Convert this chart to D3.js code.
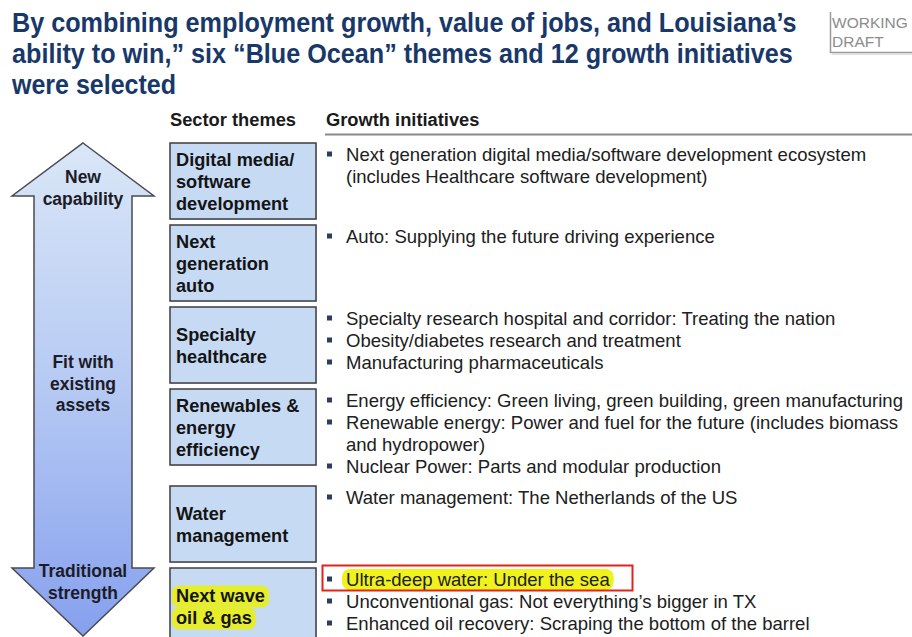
<!DOCTYPE html>
<html><head><meta charset="utf-8">
<script src="https://cdn.jsdelivr.net/npm/d3@7"></script>
<style>
html,body{margin:0;padding:0;background:#fff;}
svg{display:block;font-family:"Liberation Sans",Arial,sans-serif;}
</style></head>
<body>
<script>
// ---- content ----
const titleLines = [
  "By combining employment growth, value of jobs, and Louisiana’s",
  "ability to win,” six “Blue Ocean” themes and 12 growth initiatives",
  "were selected"
];
const stampLines = ["WORKING", "DRAFT"];
const headers = ["Sector themes", "Growth initiatives"];
const themes = [
  ["Digital media/", "software", "development"],
  ["Next", "generation", "auto"],
  ["Specialty", "healthcare"],
  ["Renewables &", "energy", "efficiency"],
  ["Water", "management"],
  ["Next wave", "oil & gas"]
];
const initiatives = [
  [["Next generation digital media/software development ecosystem", "(includes Healthcare software development)"]],
  [["Auto: Supplying the future driving experience"]],
  [["Specialty research hospital and corridor: Treating the nation"],
   ["Obesity/diabetes research and treatment"],
   ["Manufacturing pharmaceuticals"]],
  [["Energy efficiency: Green living, green building, green manufacturing"],
   ["Renewable energy: Power and fuel for the future (includes biomass", "and hydropower)"],
   ["Nuclear Power: Parts and modular production"]],
  [["Water management: The Netherlands of the US"]],
  [["Ultra-deep water: Under the sea"],
   ["Unconventional gas: Not everything’s bigger in TX"],
   ["Enhanced oil recovery: Scraping the bottom of the barrel"]]
];
const arrowLabels = [["New", "capability"], ["Fit with", "existing", "assets"], ["Traditional", "strength"]];
const highlightedTheme = 5;
const highlightedInitiative = [5, 0];

// ---- layout ----
const W = 912, H = 637;
const svg = d3.select("body").append("svg").attr("width", W).attr("height", H);
const defs = svg.append("defs");

// title (horizontally condensed via a scale transform)
const titleWidths = [785, 781, 164];
svg.append("g").selectAll("text").data(titleLines).join("text")
  .attr("x", 0).attr("y", 0)
  .attr("font-size", 28).attr("font-weight", "bold").attr("fill", "#18386a")
  .text(d => d)
  .attr("transform", function (d, i) {
    const sx = titleWidths[i] / this.getComputedTextLength();
    return `translate(12,${31.5 + i * 31}) scale(${sx},1)`;
  });

// stamp
const stamp = svg.append("g");
stamp.append("path").attr("d", "M830.5,12 V52.5 H912").attr("fill", "none")
  .attr("stroke", "#9a9a9a").attr("stroke-width", 1.5);
stamp.append("path").attr("d", "M832,54 H912").attr("stroke", "#d8d8d8").attr("stroke-width", 1.5);
stamp.selectAll("text").data(stampLines).join("text")
  .attr("x", 832).attr("y", (d, i) => 28 + i * 19)
  .attr("font-size", 15.5).attr("fill", "#8c8c8c").text(d => d);

// headers
svg.append("text").attr("x", 170).attr("y", 126).attr("font-size", 18.3).attr("font-weight", "bold")
  .attr("fill", "#1a1a1a").text(headers[0]);
svg.append("text").attr("x", 326).attr("y", 126).attr("font-size", 18.3).attr("font-weight", "bold")
  .attr("fill", "#1a1a1a").text(headers[1]);
svg.append("line").attr("x1", 325).attr("x2", W).attr("y1", 134.5).attr("y2", 134.5)
  .attr("stroke", "#8a8a8a").attr("stroke-width", 2);

// row positions from the number of initiative lines
const lineH = 22;
const tops = [];
let t = 143;
initiatives.forEach((items, i) => {
  tops.push(t);
  const n = d3.sum(items, it => it.length);
  t += Math.max(82, n * lineH + 9);
});
const boxX = 170, boxW = 146, boxH = 76;

// arrow
const grad = defs.append("linearGradient").attr("id", "ag").attr("gradientUnits", "userSpaceOnUse")
  .attr("x1", 0).attr("x2", 0).attr("y1", 143).attr("y2", 636);
grad.append("stop").attr("offset", 0).attr("stop-color", "#dae7f7");
grad.append("stop").attr("offset", 0.5).attr("stop-color", "#b5c9f3");
grad.append("stop").attr("offset", 1).attr("stop-color", "#86a0ee");
const cx = 83, tipTop = 143, tipBot = 636, wingTop = 196, wingBot = 568, sl = 34, sr = 132, wl = 12, wr = 154;
const arrowPts = [[cx, tipTop], [wr, wingTop], [sr, wingTop], [sr, wingBot], [wr, wingBot], [cx, tipBot],
  [wl, wingBot], [sl, wingBot], [sl, wingTop], [wl, wingTop]];
svg.append("path").attr("d", d3.line()(arrowPts) + "Z")
  .attr("fill", "url(#ag)").attr("stroke", "#4a4a52").attr("stroke-width", 1.5).attr("stroke-linejoin", "miter");
const arrowLabelY = [183, 368, 577];
arrowLabels.forEach((lines, k) => {
  svg.append("g").selectAll("text").data(lines).join("text")
    .attr("x", cx).attr("y", (d, i) => arrowLabelY[k] + i * 21.5)
    .attr("text-anchor", "middle").attr("font-size", 17.5).attr("font-weight", "bold")
    .attr("fill", "#1c1c28").text(d => d);
});

// theme boxes
const boxes = svg.append("g");
themes.forEach((lines, i) => {
  const g = boxes.append("g");
  g.append("rect").attr("x", boxX + 1).attr("y", tops[i] + 1).attr("width", boxW).attr("height", boxH)
    .attr("fill", "#9a9a9a").attr("opacity", 0.35);
  g.append("rect").attr("x", boxX).attr("y", tops[i]).attr("width", boxW).attr("height", boxH)
    .attr("fill", "#c6daf4").attr("stroke", "#3c3c40").attr("stroke-width", 1.5);
  const mid = tops[i] + boxH / 2 + 7;
  const y0 = mid - (lines.length - 1) * lineH / 2;
  const hl = g.append("g");
  const texts = g.selectAll("text").data(lines).join("text")
    .attr("x", 176).attr("y", (d, j) => y0 + j * lineH)
    .attr("font-size", 18.2).attr("font-weight", "bold").attr("fill", "#141414").text(d => d);
  if (i === highlightedTheme) {
    texts.each(function (d, j) {
      const w = this.getComputedTextLength();
      hl.append("rect").attr("x", 172).attr("y", y0 + j * lineH - 16.5)
        .attr("width", w + 8).attr("height", 22).attr("rx", 7)
        .attr("fill", "#e6ee2c");
    });
  }
});

// initiatives
const ini = svg.append("g");
initiatives.forEach((items, i) => {
  let y = tops[i] + 18;
  items.forEach((lines, k) => {
    const g = ini.append("g");
    const isHL = i === highlightedInitiative[0] && k === highlightedInitiative[1];
    const hl = g.append("g");
    g.append("rect").attr("x", 327).attr("y", y - 9.5).attr("width", 5).attr("height", 5).attr("fill", "#2b3d63");
    const texts = g.selectAll("text").data(lines).join("text")
      .attr("x", 346).attr("y", (d, j) => y + j * lineH)
      .attr("font-size", 18.55).attr("fill", "#202020").text(d => d);
    if (isHL) {
      const w = texts.node().getComputedTextLength();
      hl.append("rect").attr("x", 342).attr("y", y - 17).attr("width", w + 8).attr("height", 21)
        .attr("rx", 8).attr("fill", "#f0f21e");
      g.append("rect").attr("x", 322.5).attr("y", y - 20.5).attr("width", 310).attr("height", 25)
        .attr("fill", "none").attr("stroke", "#e0231c").attr("stroke-width", 2);
    }
    y += lines.length * lineH;
  });
});
</script>
</body></html>
